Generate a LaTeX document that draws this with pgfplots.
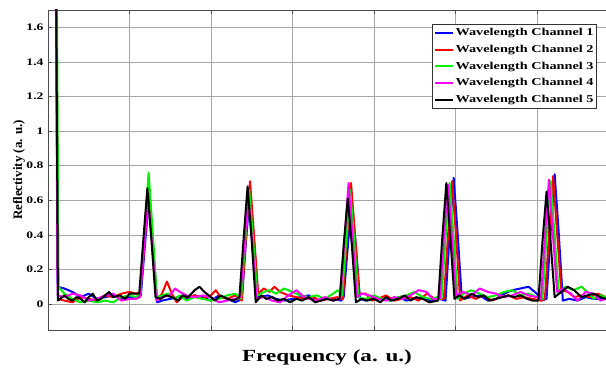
\documentclass[border=0pt]{standalone}
\usepackage{fontspec}
\setmainfont{Liberation Serif}[FakeStretch=1.36]
\newfontfamily\ylabfont{Liberation Serif}
\usepackage{pgfplots}
\pgfplotsset{compat=1.18}
\definecolor{cblue}{RGB}{0,0,255}
\definecolor{cred}{RGB}{255,0,0}
\definecolor{cgreen}{RGB}{0,240,0}
\definecolor{cmag}{RGB}{255,0,255}
\begin{document}
\begin{tikzpicture}
\begin{axis}[
  scale only axis=true, width=558pt, height=320pt,
  at={(0,0)}, anchor=south west,
  xmin=0, xmax=6.85, ymin=-0.15, ymax=1.7,
  xtick={0,1,2,3,4,5,6}, xticklabels={},
  ytick={0,0.2,0.4,0.6,0.8,1,1.2,1.4,1.6},
  axis y line*=left, axis x line*=box,
  tick align=inside, major tick length=4pt,
  tick style={black!70, line width=0.5pt},
  axis line style={black!70, line width=0.8pt},
  grid=major, grid style={gray!70, line width=0.5pt},
  /pgf/number format/assume math mode=true,
  yticklabel style={font=\bfseries\fontsize{10}{11}\selectfont, xshift=-1pt},
  xlabel={Frequency (a. u.)},
  xlabel style={font=\bfseries\fontsize{17}{18}\selectfont, at={(axis description cs:0.5,0)}, anchor=center, yshift=-27pt},
  ylabel={\ylabfont\bfseries Reflectivity (a. u.)},
  ylabel style={font=\fontsize{13}{14}\selectfont, at={(axis description cs:-0.052,0.5)}, anchor=center},
  legend style={at={(1,1)}, anchor=north east, xshift=-9pt, yshift=-14pt,
    font=\bfseries\fontsize{10.5}{11}\selectfont, draw=black!80, line width=0.7pt,
    inner xsep=1pt, inner ysep=2pt, row sep=4pt, cells={anchor=west}},
  legend image code/.code={\draw[#1, line width=2pt] (0pt,0pt) -- (18pt,0pt);},
  every axis plot/.append style={line width=2pt, line join=round},
]
\addplot[cblue, line width=2pt] coordinates {(0.09,2.5)(0.12,0.10)(0.2,0.09)(0.3,0.07)(0.4,0.04)(0.5,0.06)(0.6,0.03)(0.7,0.04)(0.8,0.05)(0.9,0.03)(1.0,0.04)(1.1,0.04)(1.14,0.05)(1.19,0.34)(1.24,0.62)(1.29,0.34)(1.34,0.01)(1.4,0.02)(1.5,0.03)(1.6,0.04)(1.7,0.03)(1.8,0.05)(1.9,0.04)(2.0,0.02)(2.1,0.05)(2.2,0.03)(2.3,0.01)(2.38,0.03)(2.43,0.36)(2.48,0.65)(2.53,0.36)(2.58,0.04)(2.7,0.05)(2.8,0.03)(2.9,0.02)(3.0,0.03)(3.1,0.04)(3.2,0.05)(3.3,0.02)(3.4,0.03)(3.5,0.03)(3.6,0.02)(3.63,0.04)(3.68,0.33)(3.73,0.60)(3.78,0.33)(3.83,0.03)(3.9,0.02)(4.0,0.04)(4.1,0.03)(4.2,0.02)(4.3,0.04)(4.4,0.02)(4.5,0.03)(4.6,0.04)(4.7,0.02)(4.8,0.03)(4.88,0.02)(4.93,0.40)(4.98,0.73)(5.03,0.40)(5.08,0.03)(5.2,0.04)(5.3,0.05)(5.4,0.02)(5.5,0.03)(5.6,0.06)(5.7,0.08)(5.8,0.09)(5.9,0.1)(6.0,0.06)(6.06,0.02)(6.12,0.03)(6.17,0.41)(6.22,0.75)(6.27,0.41)(6.32,0.02)(6.4,0.03)(6.5,0.02)(6.6,0.04)(6.7,0.03)(6.85,0.03)};
\addlegendentry{Wavelength Channel 1}
\addplot[cred, line width=2pt] coordinates {(0.095,2.5)(0.125,0.03)(0.2,0.02)(0.3,0.01)(0.4,0.04)(0.5,0.03)(0.6,0.02)(0.7,0.05)(0.8,0.04)(0.9,0.06)(1.0,0.07)(1.08,0.06)(1.135,0.07)(1.185,0.35)(1.235,0.64)(1.285,0.35)(1.335,0.03)(1.4,0.06)(1.46,0.13)(1.52,0.06)(1.58,0.01)(1.65,0.04)(1.72,0.04)(1.8,0.05)(1.9,0.03)(2.0,0.05)(2.06,0.08)(2.12,0.04)(2.2,0.03)(2.3,0.05)(2.38,0.02)(2.43,0.39)(2.48,0.71)(2.53,0.39)(2.58,0.06)(2.65,0.09)(2.72,0.07)(2.78,0.1)(2.85,0.07)(2.95,0.05)(3.05,0.04)(3.15,0.03)(3.25,0.04)(3.35,0.02)(3.45,0.03)(3.55,0.04)(3.62,0.03)(3.67,0.38)(3.72,0.70)(3.77,0.39)(3.82,0.06)(3.9,0.06)(3.98,0.02)(4.05,0.03)(4.15,0.05)(4.25,0.02)(4.35,0.03)(4.45,0.04)(4.55,0.02)(4.65,0.06)(4.75,0.03)(4.86,0.03)(4.91,0.39)(4.96,0.71)(5.01,0.39)(5.06,0.02)(5.15,0.05)(5.25,0.03)(5.35,0.05)(5.45,0.02)(5.55,0.04)(5.65,0.05)(5.75,0.03)(5.85,0.04)(5.95,0.03)(6.05,0.02)(6.10,0.03)(6.15,0.40)(6.20,0.74)(6.25,0.41)(6.30,0.08)(6.38,0.07)(6.46,0.04)(6.55,0.05)(6.65,0.04)(6.75,0.06)(6.85,0.04)};
\addlegendentry{Wavelength Channel 2}
\addplot[cgreen, line width=2pt] coordinates {(0.1,2.5)(0.13,0.1)(0.2,0.06)(0.3,0.03)(0.4,0.01)(0.5,0.02)(0.6,0.01)(0.7,0.02)(0.8,0.01)(0.9,0.04)(1.0,0.05)(1.08,0.04)(1.135,0.06)(1.185,0.42)(1.235,0.76)(1.285,0.42)(1.335,0.04)(1.4,0.05)(1.48,0.06)(1.55,0.03)(1.62,0.05)(1.7,0.02)(1.8,0.04)(1.9,0.03)(2.0,0.02)(2.1,0.03)(2.2,0.05)(2.3,0.06)(2.37,0.03)(2.42,0.36)(2.47,0.66)(2.52,0.36)(2.57,0.05)(2.65,0.07)(2.72,0.08)(2.8,0.06)(2.9,0.09)(3.0,0.07)(3.1,0.05)(3.2,0.04)(3.3,0.05)(3.4,0.03)(3.5,0.06)(3.56,0.08)(3.61,0.05)(3.66,0.36)(3.71,0.66)(3.76,0.36)(3.81,0.04)(3.9,0.03)(4.0,0.05)(4.1,0.03)(4.2,0.02)(4.3,0.04)(4.4,0.05)(4.5,0.07)(4.6,0.04)(4.7,0.03)(4.78,0.04)(4.83,0.03)(4.88,0.38)(4.93,0.70)(4.98,0.38)(5.03,0.03)(5.1,0.06)(5.2,0.08)(5.3,0.06)(5.4,0.04)(5.5,0.05)(5.6,0.07)(5.7,0.08)(5.8,0.05)(5.9,0.06)(6.0,0.04)(6.07,0.03)(6.12,0.39)(6.17,0.71)(6.22,0.39)(6.27,0.06)(6.35,0.1)(6.45,0.08)(6.55,0.1)(6.62,0.07)(6.7,0.03)(6.78,0.05)(6.85,0.04)};
\addlegendentry{Wavelength Channel 3}
\addplot[cmag, line width=2pt] coordinates {(0.088,2.5)(0.118,0.05)(0.2,0.04)(0.3,0.06)(0.4,0.05)(0.5,0.02)(0.6,0.03)(0.7,0.05)(0.8,0.06)(0.9,0.02)(1.0,0.03)(1.08,0.03)(1.13,0.04)(1.18,0.33)(1.23,0.60)(1.28,0.33)(1.33,0.02)(1.4,0.04)(1.5,0.05)(1.56,0.09)(1.62,0.07)(1.7,0.05)(1.8,0.04)(1.9,0.05)(2.0,0.04)(2.1,0.01)(2.2,0.02)(2.3,0.03)(2.36,0.04)(2.41,0.34)(2.46,0.62)(2.51,0.34)(2.56,0.03)(2.65,0.04)(2.75,0.02)(2.85,0.01)(2.95,0.05)(3.05,0.08)(3.12,0.05)(3.2,0.03)(3.3,0.02)(3.4,0.04)(3.5,0.02)(3.59,0.03)(3.64,0.38)(3.69,0.70)(3.74,0.38)(3.79,0.04)(3.85,0.06)(3.95,0.05)(4.05,0.03)(4.15,0.02)(4.25,0.04)(4.35,0.03)(4.45,0.05)(4.55,0.08)(4.65,0.07)(4.72,0.03)(4.81,0.03)(4.86,0.38)(4.91,0.69)(4.96,0.38)(5.01,0.05)(5.1,0.07)(5.2,0.05)(5.3,0.09)(5.4,0.07)(5.5,0.06)(5.6,0.04)(5.7,0.05)(5.8,0.07)(5.9,0.05)(6.0,0.04)(6.05,0.03)(6.1,0.39)(6.15,0.72)(6.2,0.39)(6.25,0.07)(6.32,0.09)(6.42,0.06)(6.5,0.02)(6.6,0.07)(6.7,0.06)(6.78,0.02)(6.85,0.03)};
\addlegendentry{Wavelength Channel 4}
\addplot[black, line width=2pt] coordinates {(0.092,2.5)(0.122,0.02)(0.2,0.05)(0.25,0.03)(0.3,0.02)(0.35,0.04)(0.4,0.03)(0.45,0.01)(0.5,0.04)(0.55,0.06)(0.6,0.02)(0.65,0.03)(0.7,0.05)(0.75,0.07)(0.8,0.04)(0.88,0.05)(0.95,0.03)(1.0,0.06)(1.07,0.06)(1.12,0.06)(1.17,0.37)(1.22,0.67)(1.27,0.37)(1.32,0.04)(1.38,0.03)(1.45,0.05)(1.52,0.04)(1.6,0.02)(1.65,0.05)(1.72,0.04)(1.8,0.08)(1.86,0.10)(1.92,0.07)(2.0,0.04)(2.05,0.02)(2.12,0.05)(2.2,0.03)(2.28,0.02)(2.35,0.04)(2.40,0.37)(2.45,0.68)(2.50,0.37)(2.55,0.01)(2.62,0.05)(2.68,0.03)(2.75,0.04)(2.82,0.02)(2.9,0.03)(2.97,0.01)(3.05,0.03)(3.12,0.02)(3.2,0.04)(3.28,0.01)(3.35,0.02)(3.42,0.03)(3.5,0.02)(3.58,0.03)(3.63,0.34)(3.68,0.61)(3.73,0.34)(3.78,0.01)(3.85,0.03)(3.92,0.02)(4.0,0.03)(4.08,0.01)(4.15,0.04)(4.22,0.02)(4.3,0.03)(4.38,0.05)(4.45,0.02)(4.52,0.04)(4.6,0.03)(4.68,0.01)(4.79,0.02)(4.84,0.38)(4.89,0.70)(4.94,0.38)(4.99,0.03)(5.05,0.05)(5.12,0.03)(5.2,0.06)(5.28,0.04)(5.35,0.05)(5.42,0.02)(5.5,0.03)(5.58,0.04)(5.65,0.05)(5.72,0.04)(5.8,0.05)(5.88,0.03)(5.95,0.02)(6.02,0.02)(6.07,0.36)(6.12,0.65)(6.17,0.36)(6.22,0.04)(6.3,0.07)(6.38,0.10)(6.46,0.08)(6.55,0.04)(6.62,0.05)(6.7,0.06)(6.78,0.04)(6.85,0.03)};
\addlegendentry{Wavelength Channel 5}
\end{axis}
\pgfresetboundingbox
\path[use as bounding box] (-48pt,-41pt) rectangle (558pt,330pt);
\end{tikzpicture}
\end{document}
